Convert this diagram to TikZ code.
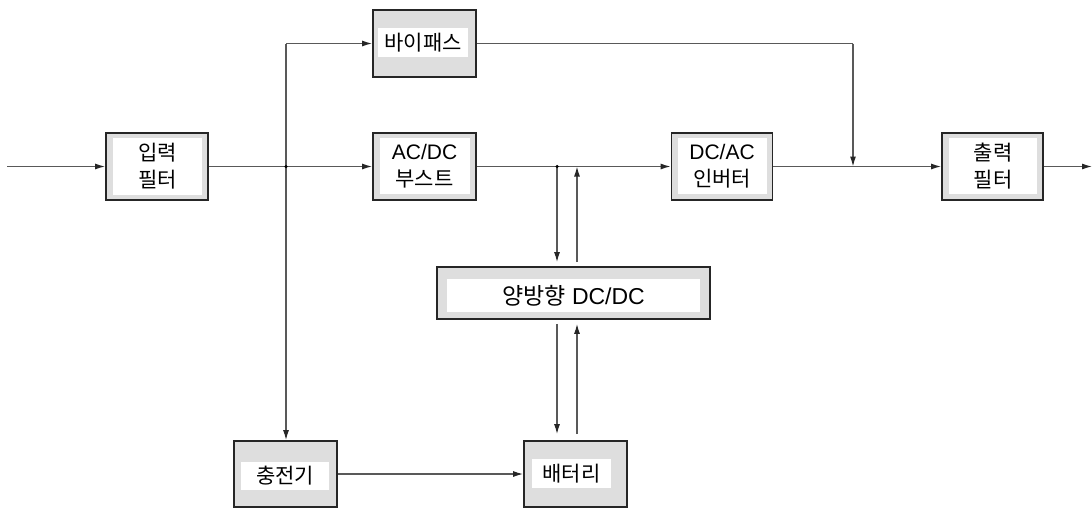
\documentclass[tikz,border=0pt]{standalone}
\usepackage{fontspec}
\setmainfont{Liberation Sans}
\newfontfamily\krfont{Noto Sans CJK KR}
\newcommand{\hangul}[1]{{\krfont #1}}
\usetikzlibrary{arrows.meta}
\tikzset{
  blk/.style={draw=black!85, line width=1.8pt, fill=black!13, inner sep=0pt},
  lbl/.style={fill=white, inner sep=0pt, align=center, font=\fontsize{21}{27}\selectfont},
  conn/.style={draw=black!65, line width=1.2pt},
  arr/.style={conn, -{Latex[length=10pt,width=6pt,color=black!85]}},
  dot/.style={circle, fill=black, inner sep=0pt, minimum size=3.5pt}
}
\begin{document}
\begin{tikzpicture}[x=1pt,y=-1pt]
\path[use as bounding box] (0,0) rectangle (1092,509);
% blocks
\node[blk, minimum width=102, minimum height=67] (inf) at (157,166.5) {};
\node[lbl, minimum width=89, minimum height=57] (inft) at (157.5,166) {\hangul{입력}\\\hangul{필터}};

\node[blk, minimum width=103, minimum height=67] (byp) at (424.5,43.5) {};
\node[lbl, minimum width=90, minimum height=29] (bypt) at (423,42.5) {\hangul{바이패스}};

\node[blk, minimum width=103, minimum height=67] (acdc) at (424.5,166.5) {};
\node[lbl, minimum width=90, minimum height=56] (acdct) at (424.5,166) {AC/DC\\\hangul{부스트}};

\node[blk, minimum width=101, minimum height=67] (dcac) at (722,166.5) {};
\node[lbl, minimum width=89, minimum height=56] (dcact) at (722,166) {DC/AC\\\hangul{인버터}};

\node[blk, minimum width=101, minimum height=67] (out) at (992.5,166.5) {};
\node[lbl, minimum width=88, minimum height=56] (outt) at (993,166) {\hangul{출력}\\\hangul{필터}};

\node[blk, minimum width=273, minimum height=52] (dcdc) at (573.5,293) {};
\node[lbl, minimum width=253, minimum height=33, font=\fontsize{23}{27}\selectfont] (dcdct) at (573.5,295.5) {\hangul{양방향} DC/DC};

\node[blk, minimum width=103, minimum height=66] (chg) at (285.5,474) {};
\node[lbl, minimum width=88, minimum height=28] (chgt) at (285,476) {\hangul{충전기}};

\node[blk, minimum width=103, minimum height=66] (bat) at (575.5,474) {};
\node[lbl, minimum width=79, minimum height=29] (batt) at (571.5,473.5) {\hangul{배터리}};

% coordinates
\coordinate (in0) at (7,166.5);
\coordinate (j1) at (286,166.5);
\coordinate (tl) at (286,43.5);
\coordinate (j2) at (557,166.5);
\coordinate (up1) at (577,166.5);
\coordinate (tr) at (853,43.5);
\coordinate (j3) at (853,166.5);
\coordinate (outend) at (1092,166.5);

% connectors
\draw[arr] (in0) -- (inf.west);
\draw[conn] (inf.east) -- (j1);
\draw[arr] (j1) -- (acdc.west);
\draw[conn] (j1) -- (tl);
\draw[arr] (tl) -- (byp.west);
\draw[arr] (j1) -- (tl |- chg.north);
\draw[arr] (acdc.east) -- (dcac.west);
\draw[arr, shorten >=4pt] (j2) -- (j2 |- dcdc.north);
\draw[arr, shorten <=4pt] (up1 |- dcdc.north) -- (up1);
\draw[arr, shorten <=4pt, shorten >=6pt] (j2 |- dcdc.south) -- (j2 |- bat.north);
\draw[arr, shorten <=6pt, shorten >=4pt] (up1 |- bat.north) -- (up1 |- dcdc.south);
\draw[conn] (byp.east) -- (tr);
\draw[arr] (tr) -- (j3);
\draw[arr] (dcac.east) -- (out.west);
\draw[arr] (out.east) -- (outend);
\draw[arr] (chg.east) -- (bat.west);

\node[dot] (d1) at (j1) {};
\node[dot] (d2) at (j2) {};
\end{tikzpicture}
\end{document}
